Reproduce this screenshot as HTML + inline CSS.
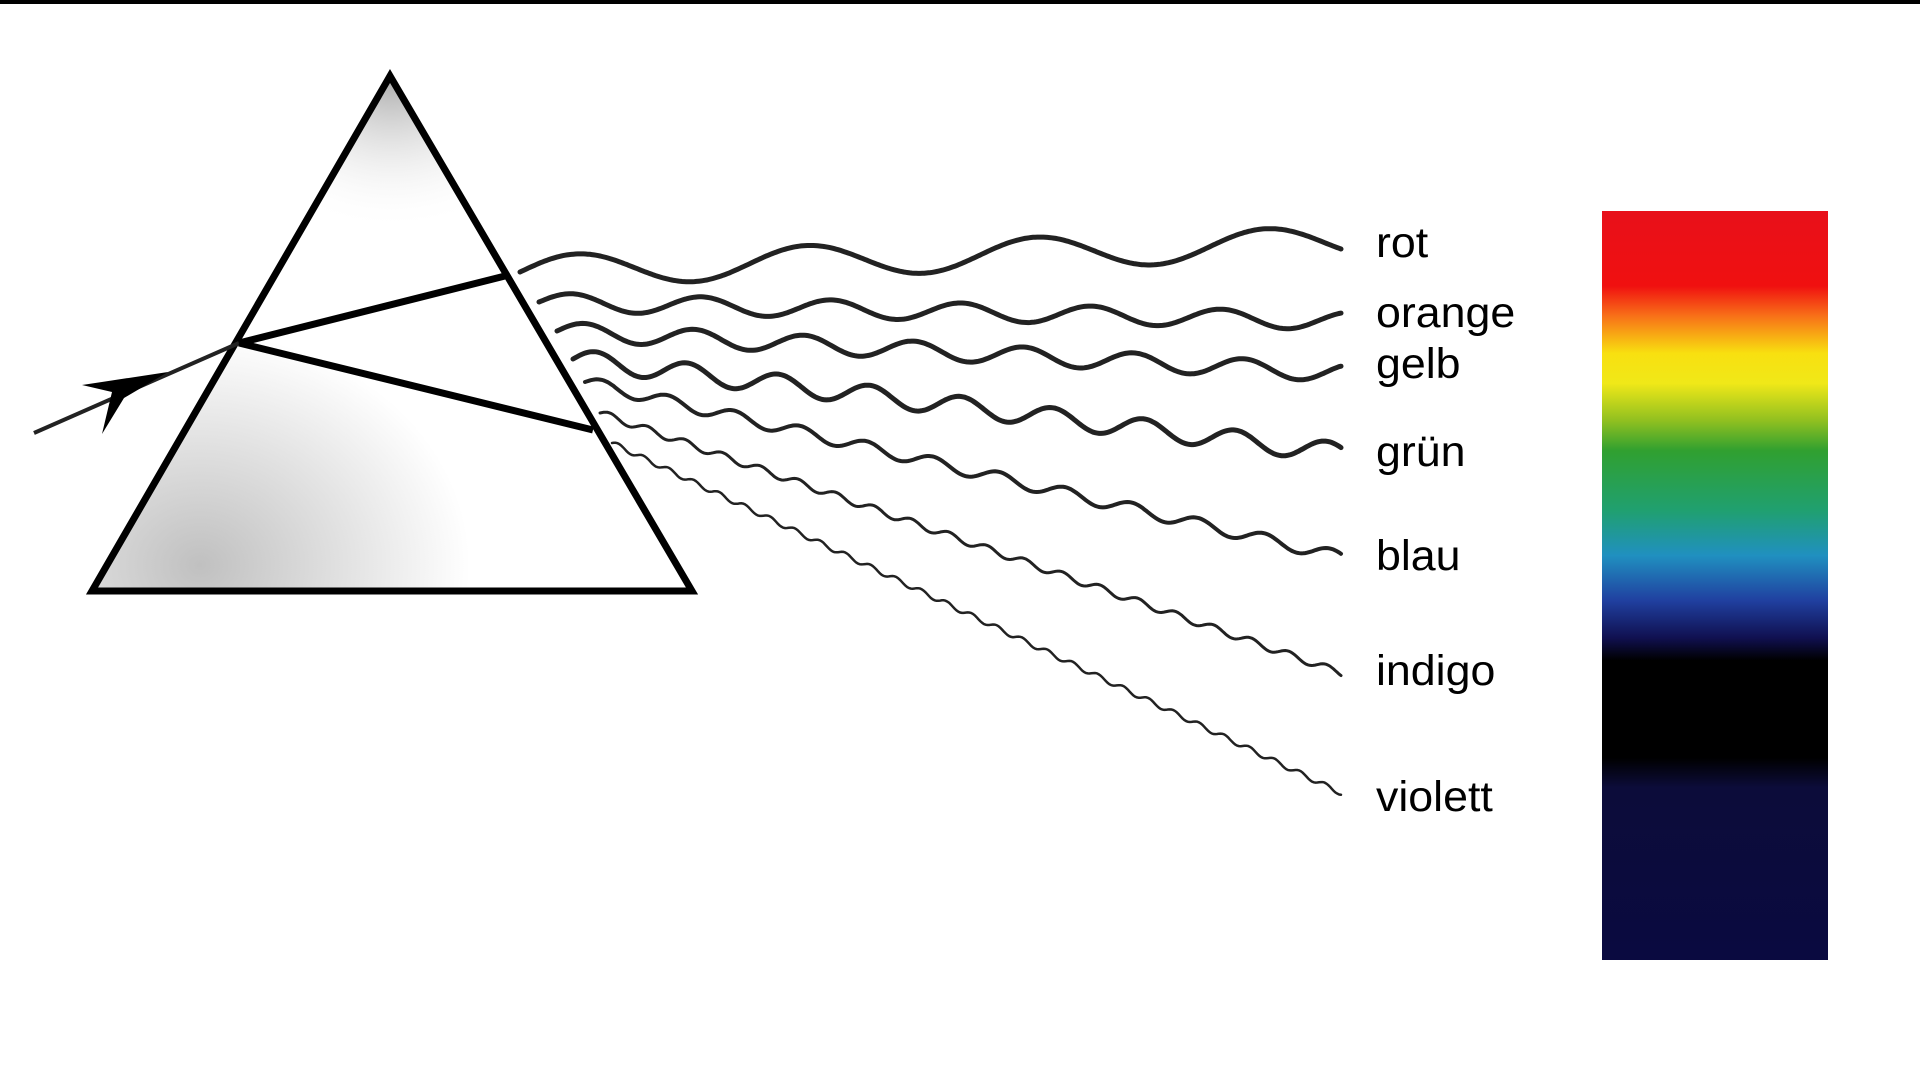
<!DOCTYPE html>
<html><head><meta charset="utf-8"><style>
html,body{margin:0;padding:0;background:#fff;width:1920px;height:1080px;overflow:hidden}
svg{position:absolute;left:0;top:0}
.lbl{position:absolute;font-family:"Liberation Sans",sans-serif;font-size:43px;color:#000;line-height:1;transform:scaleX(1.04);transform-origin:left}
</style></head><body>
<svg width="1920" height="1080" viewBox="0 0 1920 1080">
<defs>
<radialGradient id="g1" cx="0.18" cy="0.95" r="0.45"><stop offset="0" stop-color="#c0c0c0"/><stop offset="1" stop-color="#fff"/></radialGradient>
<radialGradient id="g2" cx="0.5" cy="0" r="0.3"><stop offset="0" stop-color="#aaa"/><stop offset="1" stop-color="#fff" stop-opacity="0"/></radialGradient>
<linearGradient id="sp" x1="0" y1="0" x2="0" y2="1">
<stop offset="0" stop-color="#e8101a"/><stop offset="0.1" stop-color="#f01010"/>
<stop offset="0.14" stop-color="#f87018"/><stop offset="0.19" stop-color="#f8e010"/>
<stop offset="0.23" stop-color="#f0e818"/><stop offset="0.28" stop-color="#90c020"/>
<stop offset="0.32" stop-color="#30a030"/><stop offset="0.4" stop-color="#20a070"/>
<stop offset="0.46" stop-color="#2090c0"/><stop offset="0.52" stop-color="#2040a0"/>
<stop offset="0.57" stop-color="#101050"/><stop offset="0.6" stop-color="#000"/>
<stop offset="0.73" stop-color="#000"/><stop offset="0.77" stop-color="#0c0c3a"/>
<stop offset="1" stop-color="#0a0a40"/></linearGradient>
</defs>
<rect x="0" y="0" width="1920" height="4" fill="#000"/>
<polygon points="390,76 92,591 692,591" fill="url(#g1)"/>
<polygon points="390,76 92,591 692,591" fill="url(#g2)"/>
<polygon points="390,76 92,591 692,591" fill="none" stroke="#000" stroke-width="7" stroke-linejoin="miter"/>
<line x1="34" y1="433" x2="239" y2="343" stroke="#222" stroke-width="4"/>
<polygon points="168,372 82,385 112,392 102,434 124,398" fill="#000"/>
<line x1="239" y1="343" x2="505" y2="276" stroke="#000" stroke-width="7"/>
<line x1="239" y1="343" x2="593" y2="430" stroke="#000" stroke-width="7"/>
<rect x="1602" y="211" width="226" height="749" fill="url(#sp)"/>
<g id="waves" fill="none" stroke="#222" stroke-linecap="round"></g>
</svg>
<div class="lbl" style="left:1376px;top:222px">rot</div>
<div class="lbl" style="left:1376px;top:292px">orange</div>
<div class="lbl" style="left:1376px;top:343px">gelb</div>
<div class="lbl" style="left:1376px;top:431px">grün</div>
<div class="lbl" style="left:1376px;top:535px">blau</div>
<div class="lbl" style="left:1376px;top:650px">indigo</div>
<div class="lbl" style="left:1376px;top:776px">violett</div>
<script>
var W=[[520,272,1341,242,16,230,5],[539,302,1341,321,9,130,5],[557,331,1341,373,9,110,5],[573,359,1341,453,10,92,5],[585,382,1341,557,6,68,4],[600,413,1341,673,3.5,40,3],[612,443,1341,793,2.5,28,2.5]];
var g=document.getElementById('waves'),s='';
W.forEach(function(w){var d='',n=400;for(var i=0;i<=n;i++){var t=i/n,x=w[0]+(w[2]-w[0])*t,y=w[1]+(w[3]-w[1])*t;var L=Math.hypot(w[2]-w[0],w[3]-w[1])*t;y+=-w[4]*Math.sin(2*Math.PI*L/w[5]);d+=(i?'L':'M')+x.toFixed(1)+','+y.toFixed(1);}s+='<path d="'+d+'" stroke-width="'+w[6]+'"/>';});
g.innerHTML=s;
</script>
</body></html>
